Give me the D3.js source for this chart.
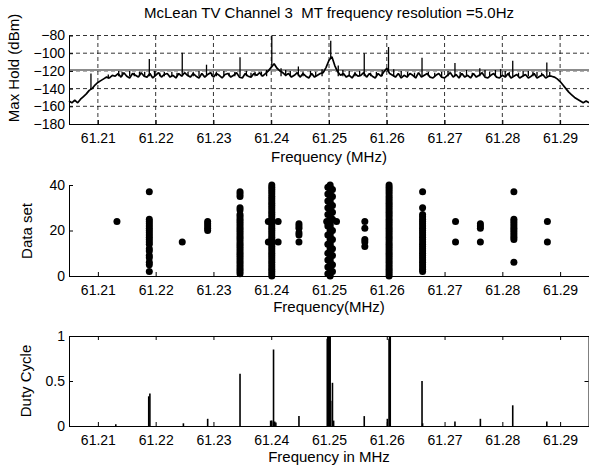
<!DOCTYPE html>
<html>
<head>
<meta charset="utf-8">
<script src="https://cdn.jsdelivr.net/npm/d3@7"></script>
<style>
    body { margin: 0; background: #fff; }
    text { font-family: "Liberation Sans", Arial, sans-serif; fill: #000; }
</style>
</head>
<body>
<svg id="canvas" width="589" height="467"></svg>
<script>
// frequency ticks shared by all three panels (MHz)
let freqTicks = [61.21, 61.22, 61.23, 61.24, 61.25, 61.26, 61.27, 61.28, 61.29]
let freqDomain = [61.205, 61.295]

// max hold spectrum, one value every 0.0005 MHz from 61.205
let spectrumStart = 61.205
let spectrumStep = 0.0005
let spectrumLevel = [
    -154, -156, -153, -156, -152, -149, -146, -142, -140, -136, -133, -131, -129, -127, -128, -125, -126,
    -123, -127, -122, -126, -128, -123, -125, -127, -122, -126,
    -127, -123, -128, -125, -122, -127, -124, -123, -127, -125,
    -128, -123, -126, -122, -125, -127, -123, -126, -128, -123,
    -127, -124, -122, -127, -123, -125, -128, -124, -123, -127,
    -125, -122, -127, -128, -123, -126, -127, -123, -125, -122,
    -126, -123, -120, -116, -112, -117, -120, -122, -125, -123,
    -127, -125, -122, -127, -123, -126, -128, -123, -127, -125,
    -123, -122, -116, -108, -104, -114, -121, -125, -123, -127,
    -125, -128, -123, -126, -125, -122, -127, -123, -126, -128,
    -123, -126, -121, -117, -123, -125, -127, -123, -128, -125,
    -127, -123, -125, -128, -122, -127, -125, -123, -127, -128,
    -125, -123, -127, -128, -125, -122, -127, -124, -128, -123,
    -127, -125, -128, -123, -127, -125, -122, -127, -128, -125,
    -123, -127, -128, -125, -127, -123, -128, -126, -124, -128,
    -126, -124, -128, -126, -123, -128, -126, -124, -128, -126,
    -126, -127, -129, -132, -136, -140, -144, -147, -150, -152, -154, -156, -154, -156
]

// narrow peaks standing on the floor
let spikeFreq = [
    61.2088, 61.2118, 61.2136, 61.2142, 61.2155, 61.2163, 61.2172, 61.2181, 61.2189, 61.2198,
    61.2207, 61.2215, 61.2228, 61.2237, 61.2246, 61.2256, 61.2265, 61.2275, 61.2288, 61.2297,
    61.2305, 61.2318, 61.2327, 61.2337, 61.2346, 61.2357, 61.2365, 61.2372, 61.2383, 61.2392,
    61.2401, 61.2417, 61.2425, 61.2433, 61.2447, 61.2455, 61.2468, 61.2477, 61.2488, 61.2503,
    61.2516, 61.2524, 61.2535, 61.2545, 61.2553, 61.2561, 61.2572, 61.2582, 61.2592, 61.2603,
    61.2612, 61.2625, 61.2636, 61.2648, 61.2661, 61.2672, 61.2683, 61.2695, 61.2706, 61.2718,
    61.2727, 61.2738, 61.2748, 61.2761, 61.2770, 61.2778, 61.2788, 61.2797, 61.2805, 61.2812,
    61.2818, 61.2828, 61.2836, 61.2845, 61.2853, 61.2860, 61.2868, 61.2877, 61.2882]
let spikeTop = [
    -123, -124, -120, -121, -120, -122, -121, -121, -106.5, -120,
    -122, -121, -121, -122, -99.5, -121, -121, -120, -113, -122,
    -121, -120, -122, -121, -104.5, -120, -122, -121, -121, -119,
    -80, -117, -119, -120, -115, -121, -120, -121, -118, -86,
    -114, -119, -120, -121, -120, -100, -122, -121, -119, -93,
    -118, -120, -121, -122, -105, -121, -122, -121, -120, -111,
    -121, -119, -122, -117, -119, -121, -119, -118, -120, -121,
    -108.5, -122, -120, -120, -121, -121, -122, -110.5, -121]
let spikeBottom = [
    -141, -129, -126, -126, -126, -126, -126, -126, -126, -126,
    -126, -126, -126, -126, -126, -126, -126, -126, -126, -126,
    -126, -126, -126, -126, -126, -126, -126, -126, -126, -126,
    -114, -126, -126, -126, -126, -126, -126, -126, -126, -106,
    -126, -126, -126, -126, -126, -126, -126, -126, -126, -121,
    -126, -126, -126, -126, -126, -126, -126, -126, -126, -126,
    -126, -126, -126, -126, -126, -126, -126, -126, -126, -126,
    -126, -126, -126, -126, -126, -126, -126, -126, -126]
let thresholdLevel = -119
let levelTicks = [-80, -100, -120, -140, -160, -180]

// data sets in which each frequency was detected
let detectFreq = [61.2133, 61.2189, 61.2246, 61.229, 61.2346, 61.2401, 61.2395, 61.2412, 61.2448,
    61.2502, 61.2498, 61.2506, 61.2496, 61.2513, 61.2562, 61.2604, 61.2662, 61.2719, 61.2762, 61.282, 61.2878]
let detectSets = [
    [24],
    [37, 25, 24, 23, 22, 21, 20, 19, 18, 17, 16, 15, 14, 12, 11, 9, 8, 6, 5, 2],
    [15],
    [24, 23, 22, 21, 20],
    [37, 36, 35, 30, 29, 27, 26, 25, 24, 23, 22, 21, 20, 19, 18, 17, 16, 15, 14, 13, 12, 11, 10, 9, 8, 7, 6, 5, 4, 3, 2, 1],
    [40, 39, 38, 37, 36, 35, 34, 33, 32, 31, 30, 29, 28, 27, 26, 25, 24, 23, 22, 21, 20, 19, 18, 17, 16, 15, 14, 13, 12, 11, 10, 9, 8, 7, 6, 5, 4, 3, 2, 1, 0],
    [24, 15],
    [24, 15],
    [23, 22, 21, 19, 18, 15],
    [40, 39, 38, 37, 36, 35, 34, 33, 32, 31, 30, 29, 28, 27, 26, 25, 24, 23, 22, 21, 20, 19, 18, 17, 16, 15, 14, 13, 12, 11, 10, 9, 8, 7, 6, 5, 4, 3, 2, 1, 0],
    [39, 36, 33, 30, 27, 22, 18, 14, 10, 7, 4, 1],
    [38, 35, 31, 28, 25, 20, 16, 12, 9, 5, 2],
    [24],
    [24],
    [24, 21, 16, 15, 13],
    [40, 39, 38, 37, 36, 35, 34, 33, 32, 31, 30, 29, 28, 27, 26, 25, 24, 23, 22, 21, 20, 19, 18, 17, 16, 15, 14, 13, 12, 11, 10, 9, 8, 7, 6, 5, 4, 3, 2, 1, 0],
    [37, 30, 27, 26, 25, 24, 23, 22, 21, 20, 19, 18, 17, 16, 15, 14, 13, 12, 11, 10, 9, 8, 7, 6, 5, 4, 3, 2],
    [24, 15],
    [23, 22, 21, 15],
    [37, 25, 24, 23, 22, 21, 20, 19, 18, 17, 16, 6],
    [24, 15]
]
let setTicks = [0, 20, 40]

// duty cycle per frequency bin
let dutyFreq = [61.2131, 61.2188, 61.219, 61.2248, 61.229, 61.2346, 61.2399, 61.2401, 61.2404, 61.2406,
    61.2408, 61.2448, 61.2497, 61.2498, 61.2499, 61.25, 61.2501, 61.2502, 61.2503, 61.2506,
    61.2508, 61.2561, 61.2601, 61.2604, 61.2605, 61.2606, 61.2661, 61.2662, 61.2718, 61.2762,
    61.2818, 61.2877]
let dutyValue = [0.02, 0.33, 0.36, 0.03, 0.08, 0.58, 0.06, 0.06, 0.85, 0.05,
    0.04, 0.11, 0.97, 1, 1, 1, 1, 0.99, 0.28, 0.48,
    0.06, 0.11, 0.08, 0.97, 1, 1, 0.5, 0.03, 0.05, 0.08,
    0.23, 0.05]
let dutyTicks = [0, 0.5, 1]

let canvas = d3.select("#canvas")
let left = 69
let right = 589
let tickFont = '14px'
let labelFont = '15px'

let xScale = d3.scaleLinear().domain(freqDomain).range([left, right])

let yTop = d3.scaleLinear().domain([-180, -80]).range([124, 35.5])
let yMid = d3.scaleLinear().domain([0, 40]).range([276, 185])
let yBot = d3.scaleLinear().domain([0, 1]).range([426, 336])

let drawXAxis = (y) => {
    let g = canvas.append('g')
        .attr('transform', 'translate(0,' + y + ')')
        .call(d3.axisBottom(xScale)
            .tickValues(freqTicks)
            .tickSizeInner(-4)
            .tickSizeOuter(0)
            .tickPadding(9)
            .tickFormat(d3.format('.2f')))
    g.selectAll('text').style('font-size', tickFont)
    return g
}

let drawYAxis = (scale, ticks, fmt) => {
    let g = canvas.append('g')
        .attr('transform', 'translate(' + left + ',0)')
        .call(d3.axisLeft(scale)
            .tickValues(ticks)
            .tickSizeInner(-4)
            .tickSizeOuter(0)
            .tickPadding(4)
            .tickFormat(fmt))
    g.selectAll('text').style('font-size', tickFont)
    return g
}

let addLabel = (txt, x, y, rotate) => {
    let t = canvas.append('text')
        .attr('text-anchor', 'middle')
        .style('font-size', labelFont)
        .style('white-space', 'pre')
        .text(txt)
    if (rotate) {
        t.attr('transform', 'translate(' + x + ',' + y + ') rotate(-90)')
    } else {
        t.attr('x', x).attr('y', y)
    }
}

// ---------- top panel: max hold ----------
let gridTop = canvas.append('g')
    .attr('stroke', '#000')
    .attr('stroke-width', 0.8)
    .attr('stroke-dasharray', '4,3')
gridTop.selectAll('.vgrid')
    .data(freqTicks)
    .enter()
    .append('line')
    .attr('x1', (d) => xScale(d)).attr('x2', (d) => xScale(d))
    .attr('y1', yTop(-180)).attr('y2', yTop(-80))
gridTop.selectAll('.hgrid')
    .data(levelTicks.filter((d) => d > -180))
    .enter()
    .append('line')
    .attr('x1', left).attr('x2', right)
    .attr('y1', (d) => yTop(d)).attr('y2', (d) => yTop(d))

canvas.append('line')
    .attr('x1', left).attr('x2', right)
    .attr('y1', yTop(thresholdLevel)).attr('y2', yTop(thresholdLevel))
    .attr('stroke', '#8c8c8c')
    .attr('stroke-width', 2)

let spectrum = spectrumLevel.map((v, i) => [spectrumStart + i * spectrumStep, v])
canvas.append('path')
    .datum(spectrum)
    .attr('fill', 'none')
    .attr('stroke', '#000')
    .attr('stroke-width', 1.7)
    .attr('stroke-linejoin', 'bevel')
    .attr('d', d3.line().x((d) => xScale(d[0])).y((d) => yTop(d[1])))

canvas.selectAll('.spike')
    .data(spikeFreq)
    .enter()
    .append('line')
    .attr('x1', (d) => xScale(d)).attr('x2', (d) => xScale(d))
    .attr('y1', (d, i) => yTop(spikeBottom[i]))
    .attr('y2', (d, i) => yTop(spikeTop[i]))
    .attr('stroke', '#000')
    .attr('stroke-width', 1.3)

drawXAxis(yTop(-180))
drawYAxis(yTop, levelTicks, d3.format('d'))
addLabel('McLean TV Channel 3  MT frequency resolution =5.0Hz', 329, 18)
addLabel('Max Hold (dBm)', 19, 68, true)
addLabel('Frequency (MHz)', 329, 162)

// ---------- middle panel: detections ----------
let detections = []
detectFreq.forEach((f, i) => {
    detectSets[i].forEach((s) => detections.push([f, s]))
})
canvas.selectAll('.dot')
    .data(detections)
    .enter()
    .append('circle')
    .attr('cx', (d) => xScale(d[0]))
    .attr('cy', (d) => yMid(d[1]))
    .attr('r', 3.5)
    .attr('fill', '#000')

drawXAxis(yMid(0))
drawYAxis(yMid, setTicks, d3.format('d'))
addLabel('Data set', 32, 231, true)
addLabel('Frequency(MHz)', 329, 312)

// ---------- bottom panel: duty cycle ----------
canvas.selectAll('.stem')
    .data(dutyFreq)
    .enter()
    .append('line')
    .attr('x1', (d) => xScale(d)).attr('x2', (d) => xScale(d))
    .attr('y1', yBot(0))
    .attr('y2', (d, i) => yBot(dutyValue[i]))
    .attr('stroke', '#000')
    .attr('stroke-width', 1.6)

drawXAxis(yBot(0))
drawYAxis(yBot, dutyTicks, (d) => d === 0.5 ? '0.5' : d3.format('d')(d))

// box with inward ticks on the top and right
canvas.append('g')
    .attr('transform', 'translate(0,' + yBot(1) + ')')
    .call(d3.axisTop(xScale).tickValues(freqTicks).tickSizeInner(-4).tickSizeOuter(0).tickFormat(''))
canvas.append('g')
    .attr('transform', 'translate(' + (right - 0.5) + ',0)')
    .call(d3.axisRight(yBot).tickValues(dutyTicks).tickSizeInner(-4).tickSizeOuter(0).tickFormat(''))

addLabel('Duty Cycle', 31, 381, true)
addLabel('Frequency in MHz', 329, 462)
</script>
</body>
</html>
